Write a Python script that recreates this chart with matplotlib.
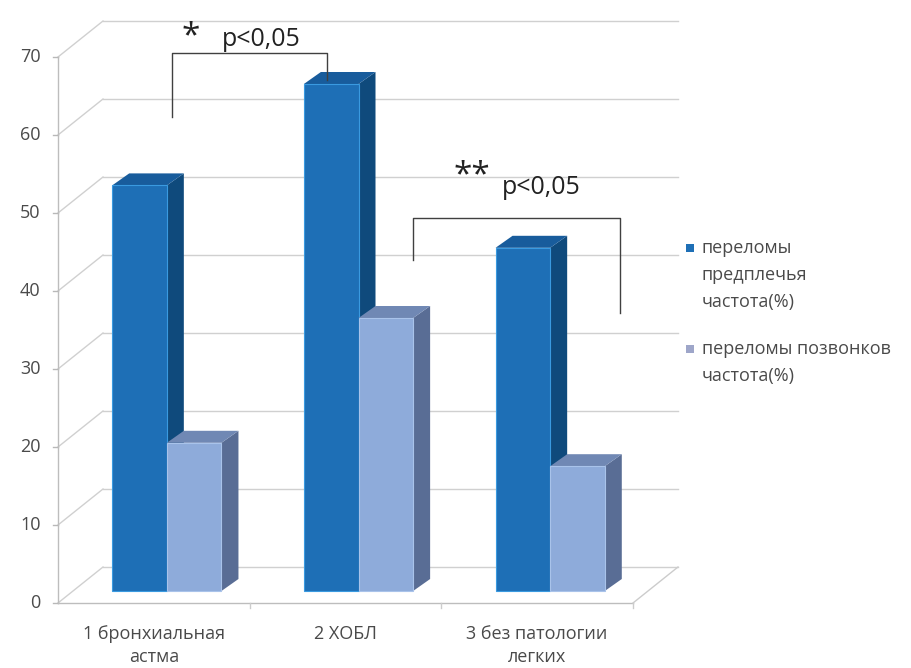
import matplotlib
matplotlib.use("Agg")
import matplotlib.pyplot as plt
from matplotlib.patches import Polygon
from matplotlib.transforms import IdentityTransform

plt.rcParams['font.family'] = ['Open Sans', 'DejaVu Sans']

# ---- data ----
categories = ["1 бронхиальная\nастма", "2 ХОБЛ", "3 без патологии\nлегких"]
series_names = ["переломы\nпредплечья\nчастота(%)", "переломы позвонков\nчастота(%)"]
forearm = [52, 65, 44]      # переломы предплечья, %
vertebra = [19, 35, 16]     # переломы позвонков, %
y_ticks = [0, 10, 20, 30, 40, 50, 60, 70]

# ---- styling ----
DPI = 100
W, H = 912, 668
grid_col = "#d0d0d0"
text_col = "#4a4a4a"
dark = dict(front="#1e6fb6", side="#0f4a7c", top="#185c9c", edge="#3a9ae0")
light = dict(front="#8eabda", side="#596d95", top="#7088b4", edge="#a9c3ea")

fig = plt.figure(figsize=(W / DPI, H / DPI), dpi=DPI)
fig.patch.set_facecolor("white")
ax = fig.add_axes([58 / W, 65 / H, 575 / W, 546 / H])
ax.set_xlim(0, 3)
ax.set_ylim(0, 70)
ax.axis("off")

# depth vectors in display pixels
WALL = (45, 36)          # full depth of the plot box
BAR_FRONT = (13, 12)     # front face of bars
BAR_DEPTH = (17, 12)     # thickness of bars


def proj(x, v, off=(0, 0)):
    px, py = ax.transData.transform((x, v))
    return (px + off[0], py + off[1])


def add_poly(pts, fc, ec="none", lw=0, z=2):
    ax.add_patch(Polygon(pts, closed=True, facecolor=fc, edgecolor=ec,
                         linewidth=lw, transform=IdentityTransform(),
                         zorder=z, clip_on=False))


def add_line(p0, p1, col=grid_col, lw=1.0, z=1):
    ax.add_line(plt.Line2D([p0[0], p1[0]], [p0[1], p1[1]], color=col, lw=lw,
                           transform=IdentityTransform(), zorder=z,
                           clip_on=False))


# back wall gridlines and left wall diagonals
for v in y_ticks:
    add_line(proj(0, v, WALL), proj(3, v, WALL))
    add_line(proj(0, v), proj(0, v, WALL))
    # tick marks on the front axis
    a = proj(0, v)
    add_line((a[0] - 5, a[1]), a, col="#b8b8b8")
    ax.text(-0.09, v, str(v), ha="right", va="center", fontsize=13,
            color=text_col)

# front vertical axis
add_line(proj(0, 0), proj(0, 70), col="#bdbdbd")
# floor edges
add_line(proj(0, 0), proj(3, 0), col="#bdbdbd")
add_line(proj(3, 0), proj(3, 0, WALL), col="#cccccc")
for i in range(1, 4):
    a = proj(i, 0)
    add_line(a, (a[0], a[1] - 5), col="#cccccc")


def draw_bar(x0, x1, v, colors):
    f = BAR_FRONT
    b = (BAR_FRONT[0] + BAR_DEPTH[0], BAR_FRONT[1] + BAR_DEPTH[1])
    fl_b, fr_b = proj(x0, 0, f), proj(x1, 0, f)
    fl_t, fr_t = proj(x0, v, f), proj(x1, v, f)
    br_b, br_t = proj(x1, 0, b), proj(x1, v, b)
    bl_t = proj(x0, v, b)
    add_poly([fr_b, br_b, br_t, fr_t], colors["side"], z=3)
    add_poly([fl_t, fr_t, br_t, bl_t], colors["top"], z=3)
    add_poly([fl_b, fr_b, fr_t, fl_t], colors["front"], ec=colors["edge"],
             lw=0.8, z=3)


bw = 0.285
for i in range(len(categories)):
    c = i + 0.5
    draw_bar(c - bw, c, forearm[i], dark)
    draw_bar(c, c + bw, vertebra[i], light)

# category labels
for i, lab in enumerate(categories):
    ax.text(i + 0.5, -2.8, lab, ha="center", va="top", fontsize=13,
            color=text_col, linespacing=1.4)

# significance brackets
br_kw = dict(color="#404040", lw=1.0, zorder=5, clip_on=False)
ax.plot([0.595, 0.595, 1.403, 1.403], [62.3, 70.5, 70.5, 67.1], **br_kw)
ax.text(0.69, 72.6, "*", ha="center", va="center", fontsize=24,
        color="#222222")
ax.text(1.06, 72.2, "p<0,05", ha="center", va="center", fontsize=18,
        color="#222222")

ax.plot([1.852, 1.852, 2.932, 2.932], [44.0, 49.4, 49.4, 37.2], **br_kw)
ax.text(2.16, 54.8, "**", ha="center", va="center", fontsize=24,
        color="#222222")
ax.text(2.52, 53.3, "p<0,05", ha="center", va="center", fontsize=18,
        color="#222222")

# legend
legend_cols = [dark["front"], "#9ea6c9"]
legend_y = [248, 349]
for name, col, ly in zip(series_names, legend_cols, legend_y):
    fig.patches.append(plt.Rectangle((686 / W, 1 - (ly + 4) / H), 8 / W,
                                     8 / H, transform=fig.transFigure,
                                     facecolor=col, edgecolor="none"))
    fig.text(702 / W, 1 - (ly - 9) / H, name, ha="left", va="top",
             fontsize=13, color=text_col, linespacing=1.65)

fig.savefig("out.png", dpi=DPI, facecolor="white")
